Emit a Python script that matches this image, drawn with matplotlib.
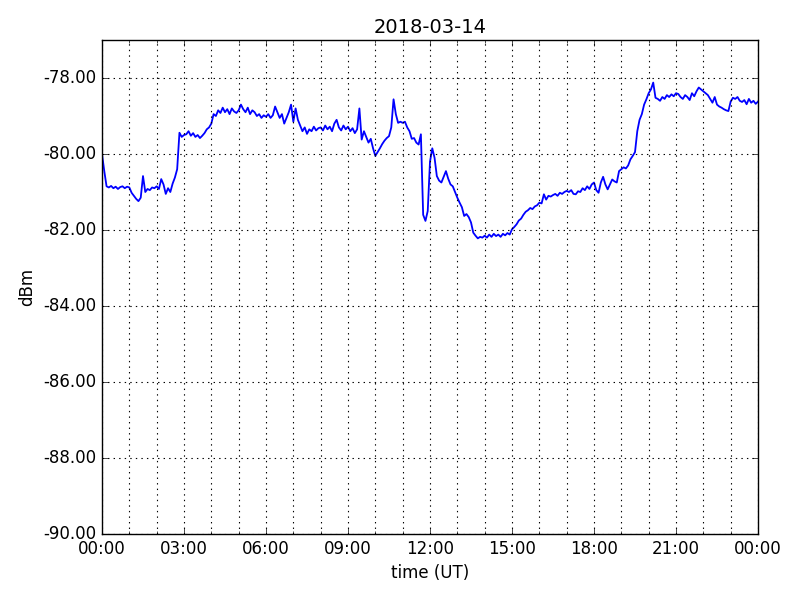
import matplotlib
matplotlib.use("Agg")
import matplotlib.pyplot as plt
import matplotlib.dates as mdates
from matplotlib.ticker import FormatStrFormatter, MultipleLocator
import pandas as pd

plt.style.use("classic")

title = "2018-03-14"
x_label = "time (UT)"
y_label = "dBm"
start_time = "2018-03-14 00:00"
end_time = "2018-03-15 00:00"
sample_step = "5min"

# signal level (dBm), one row per hour, 5-minute samples
h00 = [-80.00, -80.45, -80.85, -80.88, -80.84, -80.90, -80.86, -80.92, -80.87, -80.85, -80.90, -80.86]
h01 = [-80.88, -81.02, -81.10, -81.18, -81.24, -81.15, -80.58, -81.00, -80.92, -80.95, -80.88, -80.90]
h02 = [-80.85, -80.92, -80.66, -80.80, -81.05, -80.90, -81.00, -80.78, -80.62, -80.40, -79.44, -79.55]
h03 = [-79.50, -79.48, -79.40, -79.52, -79.45, -79.55, -79.50, -79.58, -79.52, -79.45, -79.35, -79.30]
h04 = [-79.20, -78.95, -79.00, -78.85, -78.92, -78.78, -78.90, -78.82, -78.95, -78.80, -78.88, -78.92]
h05 = [-78.85, -78.70, -78.82, -78.90, -78.78, -78.95, -78.85, -78.90, -79.00, -78.95, -79.05, -78.98]
h06 = [-79.02, -78.95, -79.05, -78.98, -78.75, -78.90, -79.05, -78.95, -79.20, -79.05, -78.90, -78.70]
h07 = [-79.15, -78.80, -79.10, -79.25, -79.40, -79.30, -79.47, -79.35, -79.40, -79.28, -79.38, -79.32]
h08 = [-79.30, -79.38, -79.25, -79.35, -79.28, -79.40, -79.20, -79.10, -79.30, -79.38, -79.25, -79.35]
h09 = [-79.28, -79.40, -79.32, -79.45, -79.35, -78.80, -79.62, -79.40, -79.55, -79.70, -79.60, -79.85]
h10 = [-80.05, -79.95, -79.85, -79.74, -79.65, -79.58, -79.53, -79.30, -78.56, -78.95, -79.18, -79.15]
h11 = [-79.18, -79.15, -79.30, -79.40, -79.60, -79.58, -79.70, -79.75, -79.48, -81.60, -81.76, -81.50]
h12 = [-80.20, -79.85, -80.10, -80.58, -80.70, -80.75, -80.60, -80.45, -80.65, -80.80, -80.85, -81.00]
h13 = [-81.15, -81.28, -81.40, -81.63, -81.58, -81.66, -81.80, -82.07, -82.15, -82.22, -82.18, -82.20]
h14 = [-82.15, -82.20, -82.12, -82.18, -82.10, -82.16, -82.12, -82.18, -82.10, -82.14, -82.08, -82.12]
h15 = [-81.98, -81.92, -81.85, -81.75, -81.70, -81.60, -81.52, -81.48, -81.42, -81.45, -81.38, -81.35]
h16 = [-81.28, -81.30, -81.06, -81.20, -81.10, -81.12, -81.08, -81.05, -81.10, -81.02, -81.05, -81.00]
h17 = [-80.97, -81.00, -80.95, -81.05, -81.06, -80.98, -81.00, -80.90, -80.95, -80.85, -80.92, -80.80]
h18 = [-80.75, -80.95, -81.02, -80.75, -80.60, -80.80, -80.93, -80.80, -80.67, -80.72, -80.75, -80.45]
h19 = [-80.40, -80.35, -80.38, -80.30, -80.14, -80.05, -79.95, -79.40, -79.10, -78.95, -78.70, -78.56]
h20 = [-78.40, -78.30, -78.12, -78.52, -78.55, -78.60, -78.50, -78.55, -78.45, -78.50, -78.43, -78.48]
h21 = [-78.40, -78.42, -78.50, -78.55, -78.45, -78.50, -78.58, -78.40, -78.48, -78.35, -78.25, -78.30]
h22 = [-78.35, -78.40, -78.45, -78.55, -78.65, -78.50, -78.70, -78.75, -78.78, -78.82, -78.85, -78.87]
h23 = [-78.62, -78.52, -78.55, -78.50, -78.60, -78.63, -78.58, -78.69, -78.55, -78.65, -78.60, -78.68]
h24 = [-78.62]

values = (h00 + h01 + h02 + h03 + h04 + h05 + h06 + h07 + h08 + h09 + h10 + h11 +
          h12 + h13 + h14 + h15 + h16 + h17 + h18 + h19 + h20 + h21 + h22 + h23 + h24)
times = pd.date_range(start_time, end_time, freq=sample_step)

y_min, y_max = -90.0, -77.0

fig = plt.figure(figsize=(8, 6), dpi=100)
ax = fig.add_axes([0.1275, 0.11, 0.82, 0.8233])
ax.plot(times, values, color="b", linewidth=1.3)

ax.set_xlim(pd.Timestamp(start_time), pd.Timestamp(end_time))
ax.set_ylim(y_min, y_max)
ax.xaxis.set_major_locator(mdates.HourLocator(byhour=range(0, 24, 3)))
ax.xaxis.set_minor_locator(mdates.HourLocator())
ax.xaxis.set_major_formatter(mdates.DateFormatter("%H:%M"))
ax.yaxis.set_major_locator(MultipleLocator(2))
ax.yaxis.set_major_formatter(FormatStrFormatter("%.2f"))

ax.grid(True, which="major", color="k", linestyle=":", linewidth=0.8)
ax.grid(True, which="minor", axis="x", color="k", linestyle=":", linewidth=0.8)

ax.set_title(title, fontsize=14)
ax.set_xlabel(x_label, fontsize=12)
ax.set_ylabel(y_label, fontsize=12)
ax.tick_params(labelsize=12)

fig.savefig("out.png", dpi=100)
